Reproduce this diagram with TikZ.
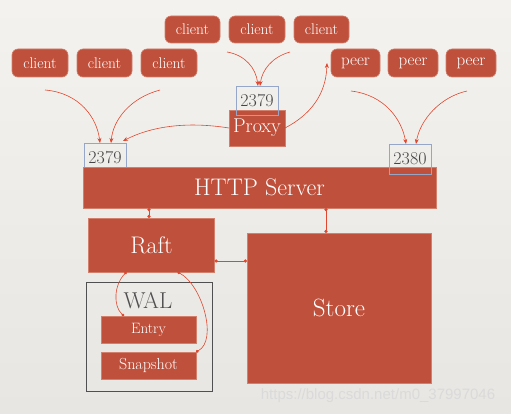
\documentclass[tikz,border=0pt]{standalone}
\usepackage{fontspec}
\newfontfamily\wmfont{Liberation Sans}
\usetikzlibrary{arrows.meta}
\definecolor{bgtop}{HTML}{F4F2EE}
\definecolor{bgbot}{HTML}{E8E6E2}
\definecolor{boxred}{HTML}{BE503C}
\definecolor{boxedge}{HTML}{D27F6C}
\definecolor{portblue}{HTML}{95A6C8}
\definecolor{linkred}{HTML}{E0472E}
\definecolor{walgray}{HTML}{505050}
\definecolor{portgray}{HTML}{454545}
\definecolor{wm}{HTML}{DADADA}
\tikzset{
  redbox/.style={fill=boxred, draw=boxedge, line width=0.6pt, text=white,
    inner sep=0pt, outer sep=0pt},
  pill/.style={redbox, rounded corners=6pt, minimum height=27pt,
    font=\fontsize{15.5}{17}\selectfont},
  port/.style={draw=portblue, line width=0.8pt, inner sep=0pt, outer sep=0pt,
    minimum width=42pt, minimum height=30pt, text=portgray,
    font=\fontsize{18}{20}\selectfont},
  arr/.style={draw=linkred, line width=0.6pt, -{Stealth[length=5pt,width=4pt]}},
  link/.style={draw=linkred, line width=0.8pt,
    {Circle[length=3.2pt]}-{Circle[length=3.2pt]}},
  curvelink/.style={draw=linkred, line width=0.6pt,
    {Circle[length=3pt]}-{Circle[length=3pt]}},
}
\begin{document}
\begin{tikzpicture}[x=1pt,y=-1pt]
\useasboundingbox (0,0) rectangle (511,414);
\shade[top color=bgtop, bottom color=bgbot] (0,0) rectangle (511,414);

% clients top row
\node[pill, minimum width=55pt] (c1) at (192.5,29.5) {client};
\node[pill, minimum width=56pt] (c2) at (257,29.5) {client};
\node[pill, minimum width=55pt] (c3) at (321.5,29.5) {client};
% clients second row
\node[pill, minimum width=56pt, minimum height=28pt] (c4) at (40,63) {client};
\node[pill, minimum width=55pt, minimum height=28pt] (c5) at (104.5,63) {client};
\node[pill, minimum width=56pt, minimum height=28pt] (c6) at (169,63) {client};
% peers
\node[pill, minimum width=49pt, minimum height=28pt, font=\fontsize{17}{19}\selectfont] (pe1) at (355.5,63) {peer};
\node[pill, minimum width=50pt, minimum height=28pt, font=\fontsize{17}{19}\selectfont] (pe2) at (413,63) {peer};
\node[pill, minimum width=50pt, minimum height=28pt, font=\fontsize{17}{19}\selectfont] (pe3) at (471,63) {peer};

% proxy
\node[redbox, minimum width=56pt, minimum height=36pt, font=\fontsize{20}{22}\selectfont] (proxy) at (257,128) {Proxy};
% ports
\node[port] (p1) at (105,158) {2379};
\node[port, minimum height=29pt] (p2) at (257,100.5) {2379};

% HTTP server
\node[redbox, minimum width=353pt, minimum height=41pt, font=\fontsize{24}{26}\selectfont] (http) at (259.5,187.5) {HTTP Server};
\node[port] (p3) at (410,159) {2380};

% Raft, Store
\node[redbox, minimum width=126pt, minimum height=54pt, font=\fontsize{24}{26}\selectfont] (raft) at (151.5,245) {Raft};
\node[redbox, minimum width=184pt, minimum height=150pt, font=\fontsize{25}{27}\selectfont] (store) at (339,308) {Store};

% WAL
\node[draw=walgray, line width=1pt, minimum width=126pt, minimum height=109pt, inner sep=0pt] (wal) at (149,336.5) {};
\node[text=walgray, font=\fontsize{23}{25}\selectfont, inner sep=0pt] (wallabel) at (148,301) {WAL};
\node[redbox, minimum width=95pt, minimum height=27pt, font=\fontsize{15}{17}\selectfont] (entry) at (148.5,329.5) {Entry};
\node[redbox, minimum width=95pt, minimum height=27pt, font=\fontsize{16}{18}\selectfont] (snap) at (148.5,365.5) {Snapshot};

% free ends of arrows
\coordinate (s4) at (45,90);
\coordinate (s6) at (160,90);
\coordinate (s1) at (227,52);
\coordinate (s3) at (290,52);
\coordinate (sp1) at (351,91);
\coordinate (sp3) at (467,91);
\coordinate (pe1in) at (327,63);

% arrows to left 2379
\draw[arr] (s4) .. controls (80,93) and (97,118) .. ([xshift=-5pt]p1.north);
\draw[arr] (s6) .. controls (130,98) and (113,120) .. ([xshift=6pt]p1.north);
\draw[arr] (proxy.west) .. controls (185,121) and (150,127) .. ([shift={(-3pt,2pt)}]p1.north east);
% arrows to proxy 2379
\draw[arr] (s1) .. controls (245,55) and (256,68) .. ([xshift=1pt]p2.north);
\draw[arr] (s3) .. controls (272,57) and (262,70) .. ([xshift=3pt]p2.north);
% proxy to peers
\draw[arr] (proxy.east) .. controls (310,115) and (326,95) .. (pe1in);
% arrows to 2380
\draw[arr] (sp1) .. controls (385,95) and (402,120) .. ([xshift=-4pt]p3.north);
\draw[arr] (sp3) .. controls (440,97) and (420,120) .. ([xshift=6pt]p3.north);

% links
\draw[link] ([xshift=-2.5pt]http.south -| raft.north) -- ([xshift=-2.5pt]raft.north);
\draw[link] ([xshift=-13pt]store.north |- http.south) -- ([xshift=-13pt]store.north);
\draw[link] ([yshift=11pt]raft.south east) -- ([yshift=11pt]raft.south east -| store.west);
\draw[curvelink] ([xshift=38pt]raft.south west) .. controls (114,285) and (113,306) .. ([xshift=23pt]entry.north west);
\draw[curvelink] ([xshift=-37pt]raft.south east) .. controls (202,285) and (218,340) .. (snap.north east);

% watermark
\node[text=wm, font=\wmfont\fontsize{15}{17}\selectfont, inner sep=0pt] (wmark) at (378,396) {https://blog.csdn.net/m0\_37997046};
\end{tikzpicture}
\end{document}
